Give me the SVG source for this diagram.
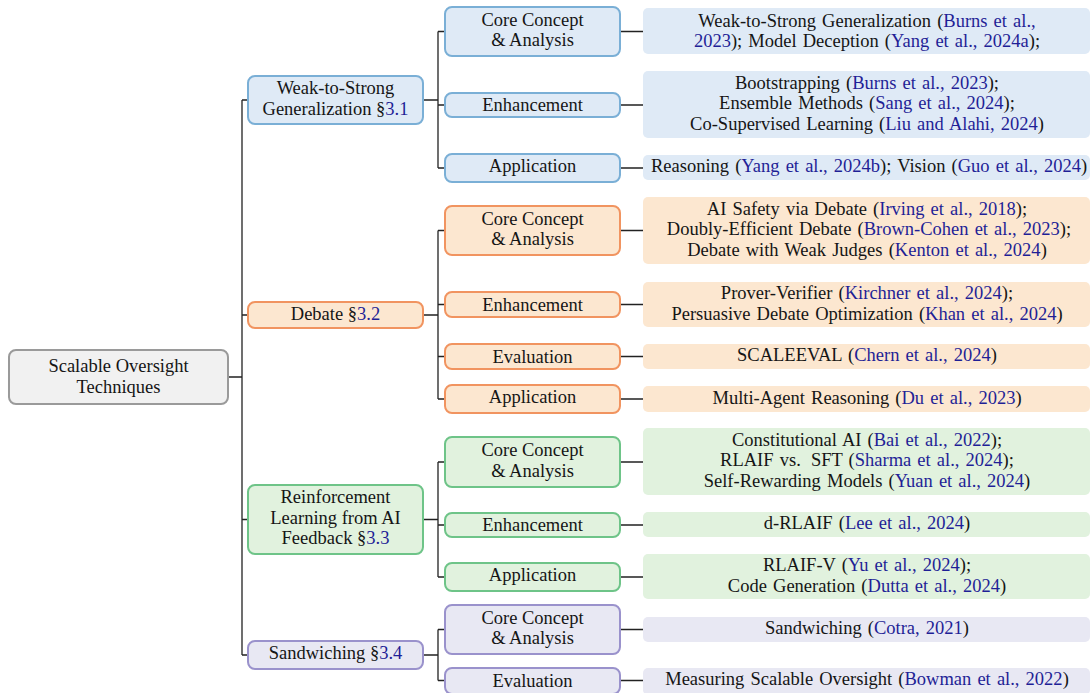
<svg xmlns="http://www.w3.org/2000/svg" width="1091" height="693" viewBox="0 0 1091 693">
<style>
text{font-family:"Liberation Serif","Times New Roman",serif;font-size:18.5px;fill:#151515;text-anchor:middle}
.lf text{word-spacing:1.5px}
.c{fill:#1f1f96}
.ln{stroke:#222;stroke-width:1.3;fill:none}
.root{fill:#f1f1f1;stroke:#9a9a9a;stroke-width:2}
.b{fill:#dfeaf6;stroke:#7aafd6;stroke-width:2}
.o{fill:#fce7d0;stroke:#f19460;stroke-width:2}
.g{fill:#e1f2de;stroke:#6ec488;stroke-width:2}
.p{fill:#e8e8f3;stroke:#9a92cc;stroke-width:2}
.lb{fill:#dfeaf6}.lo{fill:#fce7d0}.lg{fill:#e1f2de}.lp{fill:#e8e8f3}
</style>
<g id="connectors" class="ln">
<path d="M228 377H242M242 100V655M242 100H248M242 315H248M242 519.5H248M242 655H248"/>
<path d="M423 100H438M438 31.5V168M438 31.5H445M438 105H445M438 168H445"/>
<path d="M423 315H438M438 230.5V399M438 230.5H445M438 304.5H445M438 356.5H445M438 399H445"/>
<path d="M423 519.5H438M438 462V577M438 462H445M438 525H445M438 577H445"/>
<path d="M423 655H438M438 629.5V680.5M438 629.5H445M438 680.5H445"/>
<path d="M620 31.5H643M620 105H643M620 168H643M620 230.5H643M620 304.5H643M620 356.5H643M620 399H643M620 462H643M620 525H643M620 577H643M620 629.5H643M620 680.5H643"/>
</g>
<g id="root"><rect class="root" x="9" y="350" width="219" height="54" rx="7"/><text x="118.5" y="372">Scalable Oversight</text><text x="118.5" y="392.5">Techniques</text></g>

<g id="w2s"><rect class="b" x="248" y="76" width="175" height="48" rx="7"/><text x="335.5" y="94">Weak-to-Strong</text><text x="335.5" y="114.5">Generalization §<tspan class="c">3.1</tspan></text></g>
<g id="w2s-core"><rect class="b" x="445" y="7" width="175" height="49" rx="7"/><text x="532.5" y="25.5">Core Concept</text><text x="532.5" y="46">&amp; Analysis</text></g>
<g id="w2s-enh"><rect class="b" x="445" y="93" width="175" height="24" rx="7"/><text x="532.5" y="111">Enhancement</text></g>
<g id="w2s-app"><rect class="b" x="445" y="154" width="175" height="28" rx="7"/><text x="532.5" y="172">Application</text></g>
<g id="w2s-core-leaf" class="lf"><rect class="lb" x="643" y="8" width="447" height="46" rx="5"/><text x="867" y="26.5">Weak-to-Strong Generalization (<tspan class="c">Burns et al.,</tspan></text><text x="867" y="47"><tspan class="c">2023</tspan>); Model Deception (<tspan class="c">Yang et al., 2024a</tspan>);</text></g>
<g id="w2s-enh-leaf" class="lf"><rect class="lb" x="643" y="71" width="447" height="67" rx="5"/><text x="867" y="88.8">Bootstrapping (<tspan class="c">Burns et al., 2023</tspan>);</text><text x="867" y="109.3">Ensemble Methods (<tspan class="c">Sang et al., 2024</tspan>);</text><text x="867" y="129.8">Co-Supervised Learning (<tspan class="c">Liu and Alahi, 2024</tspan>)</text></g>
<g id="w2s-app-leaf" class="lf"><rect class="lb" x="643" y="155" width="447" height="25" rx="5"/><text x="869" y="172">Reasoning (<tspan class="c">Yang et al., 2024b</tspan>); Vision (<tspan class="c">Guo et al., 2024</tspan>)</text></g>

<g id="debate"><rect class="o" x="248" y="302" width="175" height="26" rx="7"/><text x="335.5" y="320">Debate §<tspan class="c">3.2</tspan></text></g>
<g id="debate-core"><rect class="o" x="445" y="206" width="175" height="49" rx="7"/><text x="532.5" y="224.5">Core Concept</text><text x="532.5" y="245">&amp; Analysis</text></g>
<g id="debate-enh"><rect class="o" x="445" y="292" width="175" height="25" rx="7"/><text x="532.5" y="310.5">Enhancement</text></g>
<g id="debate-eval"><rect class="o" x="445" y="344" width="175" height="25" rx="7"/><text x="532.5" y="362.5">Evaluation</text></g>
<g id="debate-app"><rect class="o" x="445" y="385" width="175" height="28" rx="7"/><text x="532.5" y="403">Application</text></g>
<g id="debate-core-leaf" class="lf"><rect class="lo" x="643" y="197" width="447" height="67" rx="5"/><text x="867" y="214.8">AI Safety via Debate (<tspan class="c">Irving et al., 2018</tspan>);</text><text x="869" y="235.3">Doubly-Efficient Debate (<tspan class="c">Brown-Cohen et al., 2023</tspan>);</text><text x="867" y="255.8">Debate with Weak Judges (<tspan class="c">Kenton et al., 2024</tspan>)</text></g>
<g id="debate-enh-leaf" class="lf"><rect class="lo" x="643" y="282" width="447" height="45" rx="5"/><text x="867" y="299">Prover-Verifier (<tspan class="c">Kirchner et al., 2024</tspan>);</text><text x="867" y="319.5">Persuasive Debate Optimization (<tspan class="c">Khan et al., 2024</tspan>)</text></g>
<g id="debate-eval-leaf" class="lf"><rect class="lo" x="643" y="344" width="447" height="25" rx="5"/><text x="867" y="361">SCALEEVAL (<tspan class="c">Chern et al., 2024</tspan>)</text></g>
<g id="debate-app-leaf" class="lf"><rect class="lo" x="643" y="386" width="447" height="26" rx="5"/><text x="867" y="403.5">Multi-Agent Reasoning (<tspan class="c">Du et al., 2023</tspan>)</text></g>

<g id="rlaif"><rect class="g" x="248" y="485" width="175" height="69" rx="7"/><text x="335.5" y="503">Reinforcement</text><text x="335.5" y="523.5">Learning from AI</text><text x="335.5" y="544">Feedback §<tspan class="c">3.3</tspan></text></g>
<g id="rlaif-core"><rect class="g" x="445" y="437" width="175" height="50" rx="7"/><text x="532.5" y="456">Core Concept</text><text x="532.5" y="476.5">&amp; Analysis</text></g>
<g id="rlaif-enh"><rect class="g" x="445" y="513" width="175" height="24" rx="7"/><text x="532.5" y="531">Enhancement</text></g>
<g id="rlaif-app"><rect class="g" x="445" y="563" width="175" height="28" rx="7"/><text x="532.5" y="581">Application</text></g>
<g id="rlaif-core-leaf" class="lf"><rect class="lg" x="643" y="428" width="447" height="67" rx="5"/><text x="867" y="445.8">Constitutional AI (<tspan class="c">Bai et al., 2022</tspan>);</text><text x="867" y="466.3">RLAIF vs. <tspan dx="4">SFT</tspan> (<tspan class="c">Sharma et al., 2024</tspan>);</text><text x="867" y="486.8">Self-Rewarding Models (<tspan class="c">Yuan et al., 2024</tspan>)</text></g>
<g id="rlaif-enh-leaf" class="lf"><rect class="lg" x="643" y="512" width="447" height="25" rx="5"/><text x="867" y="529.3">d-RLAIF (<tspan class="c">Lee et al., 2024</tspan>)</text></g>
<g id="rlaif-app-leaf" class="lf"><rect class="lg" x="643" y="554" width="447" height="45" rx="5"/><text x="867" y="571">RLAIF-V (<tspan class="c">Yu et al., 2024</tspan>);</text><text x="867" y="591.5">Code Generation (<tspan class="c">Dutta et al., 2024</tspan>)</text></g>

<g id="sandwiching"><rect class="p" x="248" y="641" width="175" height="28" rx="7"/><text x="335.5" y="659">Sandwiching §<tspan class="c">3.4</tspan></text></g>
<g id="sand-core"><rect class="p" x="445" y="605" width="175" height="49" rx="7"/><text x="532.5" y="623.5">Core Concept</text><text x="532.5" y="644">&amp; Analysis</text></g>
<g id="sand-eval"><rect class="p" x="445" y="668" width="175" height="26" rx="7"/><text x="532.5" y="686.5">Evaluation</text></g>
<g id="sand-core-leaf" class="lf"><rect class="lp" x="643" y="617" width="447" height="25" rx="5"/><text x="867" y="634.3">Sandwiching (<tspan class="c">Cotra, 2021</tspan>)</text></g>
<g id="sand-eval-leaf" class="lf"><rect class="lp" x="643" y="668" width="447" height="27" rx="5"/><text x="867" y="685.3">Measuring Scalable Oversight (<tspan class="c">Bowman et al., 2022</tspan>)</text></g>
</svg>
